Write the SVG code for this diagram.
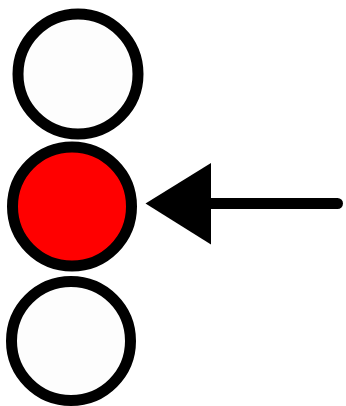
<svg xmlns="http://www.w3.org/2000/svg" width="346" height="406" viewBox="0 0 346 406">
<style>
.c{stroke:#000;stroke-width:11}
.w{fill:#fdfdfd}
.r{fill:#ff0000}
</style>
<rect width="346" height="406" fill="#fff"/>
<g id="top"><circle class="c w" cx="78" cy="74" r="60"/></g>
<g id="middle"><circle class="c r" cx="72" cy="206.5" r="59.5"/></g>
<g id="bottom"><circle class="c w" cx="71" cy="341" r="59.5"/></g>
<g id="connectors">
<line x1="337.5" y1="203.5" x2="205" y2="203.5" stroke="#000" stroke-width="11" stroke-linecap="round"/>
<polygon points="145.5,203.5 211,163 211,244.5" fill="#000"/>
</g>
</svg>
